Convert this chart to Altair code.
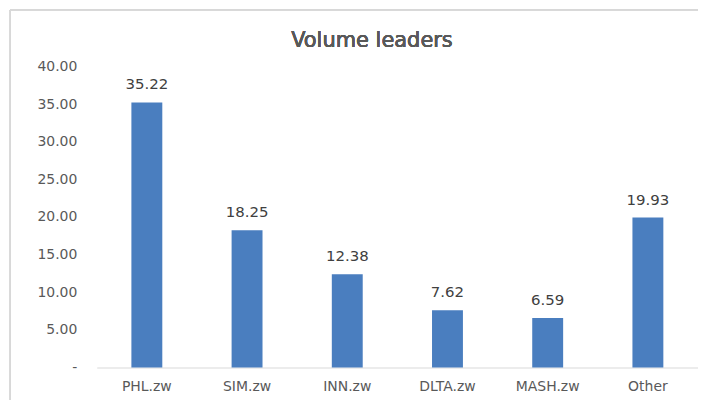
import altair as alt
import pandas as pd

categories = ["PHL.zw", "SIM.zw", "INN.zw", "DLTA.zw", "MASH.zw", "Other"]
values = [35.22, 18.25, 12.38, 7.62, 6.59, 19.93]
y_ticks = [0, 5, 10, 15, 20, 25, 30, 35, 40]
chart_title = "Volume leaders"

df = pd.DataFrame({"category": categories, "value": values})

FONT = "DejaVu Sans"
NBSP = "\u00a0"

x_enc = alt.X(
    "category:N",
    sort=categories,
    scale=alt.Scale(paddingInner=0, paddingOuter=0),
    axis=alt.Axis(
        title=None,
        labelAngle=0,
        ticks=False,
        tickSize=0,
        domainColor="#d9d9d9",
        domainWidth=1,
        labelFont=FONT,
        labelFontSize=14,
        labelColor="#595959",
        labelPadding=12,
    ),
)
y_enc = alt.Y(
    "value:Q",
    scale=alt.Scale(domain=[0, 40], nice=False),
    axis=alt.Axis(
        title=None,
        values=y_ticks,
        grid=False,
        domain=False,
        ticks=False,
        tickSize=0,
        labelFont=FONT,
        labelFontSize=14,
        labelColor="#595959",
        labelPadding=20,
        labelExpr=f"datum.value == 0 ? '-{NBSP}{NBSP}' : format(datum.value, '.2f')",
    ),
)

base = alt.Chart(df).encode(x=x_enc, y=y_enc)

bars = base.mark_bar(size=31, color="#4a7ebf")
labels = base.mark_text(
    dy=-13, baseline="alphabetic", font=FONT, fontSize=15, color="#404040"
).encode(text=alt.Text("value:Q", format=".2f"))

border_left = alt.Chart(df).mark_rule(color="#d9d9d9", strokeWidth=1).encode(
    x=alt.value(-87), y=alt.value(-56.5), y2=alt.value(460)
)
border_top = alt.Chart(df).mark_rule(color="#d9d9d9", strokeWidth=1).encode(
    x=alt.value(-87), x2=alt.value(720), y=alt.value(-56.5)
)

title = alt.Chart(df).mark_text(
    font=FONT, fontSize=21, color="#595959", align="center", baseline="alphabetic"
).encode(text=alt.value(chart_title), x=alt.value(276), y=alt.value(-19))

chart = (
    alt.layer(border_left, border_top, bars, labels, title)
    .properties(
        width=603,
        height=302,
        padding={"left": 89, "top": 58, "right": 0, "bottom": 32},
        autosize=alt.AutoSizeParams(type="none"),
        background="white",
    )
    .configure_view(strokeWidth=0, stroke="transparent")
)

chart.save("out.html", embed_options={"renderer": "svg", "actions": False})
